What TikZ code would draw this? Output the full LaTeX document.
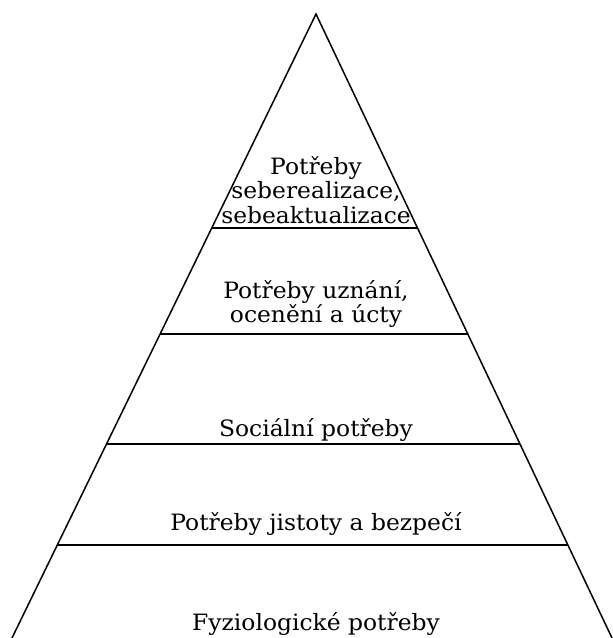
\documentclass[tikz,border=0pt]{standalone}
\usepackage{fontspec}
\setmainfont{DejaVu Serif}[FakeStretch=1.04]
\usetikzlibrary{calc}
\begin{document}
\begin{tikzpicture}[x=1pt,y=-1pt,
  edge/.style={line width=1.5pt,black},
  level/.style={font=\fontsize{22.5}{24.5}\selectfont,align=center,inner sep=0pt,text=black}]
\useasboundingbox (0,0) rectangle (613,638);
\coordinate (A) at (316,14);
\coordinate (BL) at (12,638);
\coordinate (BR) at (612,638);
\draw[edge] (BL) -- (A) -- (BR);
\foreach \yy/\nm in {228/a,334/b,444/c,545/d}{
  \coordinate (L\nm) at ($(A)!{(\yy-14)/624}!(BL)$);
  \coordinate (R\nm) at ($(A)!{(\yy-14)/624}!(BR)$);
  \draw[edge] (L\nm) -- (R\nm);
}
\node[level] (t1) at (316,190) {Potřeby\\seberealizace,\\sebeaktualizace};
\node[level] (t2) at (316,304) {Potřeby uznání,\\ocenění a úcty};
\node[level] (t3) at (316,430) {Sociální potřeby};
\node[level] (t4) at (316,524) {Potřeby jistoty a bezpečí};
\node[level] (t5) at (316,624) {Fyziologické potřeby};
\end{tikzpicture}
\end{document}
